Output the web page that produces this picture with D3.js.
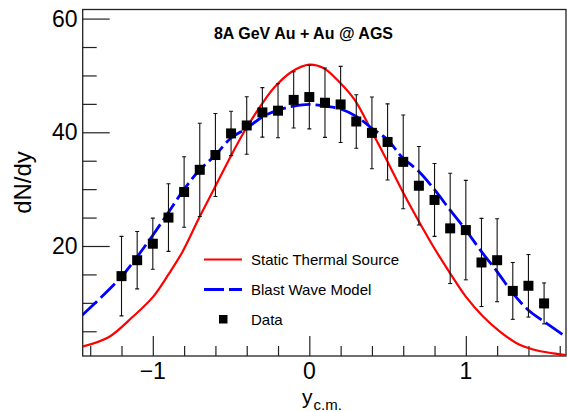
<!DOCTYPE html>
<html>
<head>
<meta charset="utf-8">
<script src="https://cdn.jsdelivr.net/npm/d3@7"></script>
<style>
  html, body { margin: 0; padding: 0; background: #fff; }
  svg { display: block; font-family: "Liberation Sans", Arial, Helvetica, sans-serif; }
</style>
</head>
<body>
<svg id="chart" width="567" height="412"></svg>
<script>
// ---- Data ----
const dataY = [-1.2,-1.1,-1.0,-0.9,-0.8,-0.7,-0.6,-0.5,-0.4,-0.3,-0.2,-0.1,0.0,0.1,0.2,0.3,0.4,0.5,0.6,0.7,0.8,0.9,1.0,1.1,1.2,1.3,1.4,1.5];
const dataDNdy = [14.7,17.5,20.4,25.0,29.5,33.4,36.0,39.8,41.2,43.5,43.8,45.7,46.2,45.2,44.9,41.9,39.9,38.3,34.8,30.6,28.1,23.1,22.8,17.1,17.5,12.1,13.0,9.9];
const dataErr = [7.0,5.05,4.5,5.95,6.2,8.2,7.3,3.9,5.05,4.35,4.75,4.95,5.6,6.1,6.7,4.7,6.3,6.7,8.25,6.9,6.4,9.7,8.75,7.75,7.3,5.0,5.5,3.6];

const staticY = [-1.45,-1.28,-1.13,-1.0,-0.9,-0.81,-0.71,-0.6,-0.515,-0.41,-0.3,-0.22,-0.11,0.0,0.09,0.19,0.29,0.4,0.495,0.59,0.686,0.79,0.9,1.0,1.11,1.22,1.325,1.43,1.56,1.64];
const staticDN = [2.3,4.0,7.5,11.0,15.0,19.0,24.6,30.5,35.1,40.4,45.1,48.0,50.7,51.9,51.3,48.9,45.7,40.1,35.1,29.9,25.0,20.0,15.2,11.1,7.6,4.9,2.9,1.8,1.1,0.8];

const blastY = [-1.45,-1.325,-1.2,-1.1,-1.0,-0.91,-0.81,-0.71,-0.6,-0.5,-0.4,-0.3,-0.2,-0.1,0.0,0.1,0.2,0.3,0.4,0.5,0.59,0.7,0.8,0.9,1.0,1.1,1.2,1.3,1.4,1.5,1.64];
const blastDN = [7.85,11.1,14.6,18.1,21.9,25.5,29.6,33.1,36.0,39.0,40.7,42.7,43.9,44.6,44.9,44.6,44.1,42.8,40.7,38.7,35.7,33.1,29.9,26.3,22.8,19.0,15.5,11.7,8.7,6.7,4.0];

const xMajorTicks = [-1, 0, 1];
const xTickLabels = ["\u22121", "0", "1"];
const xMinorTicks = [-1.4,-1.2,-0.8,-0.6,-0.4,-0.2,0.2,0.4,0.6,0.8,1.2,1.4,1.6];
const yMajorTicks = [20, 40, 60];
const yTickLabels = ["20", "40", "60"];
const yMinorTicks = [5,10,15,25,30,35,45,50,55];

const titleText = "8A GeV Au + Au @ AGS";
const legendLabels = ["Static Thermal Source", "Blast Wave Model", "Data"];

// ---- Layout ----
const svg = d3.select("#chart");
const L = 82.7, R = 566, T = 9.5, B = 356;
const x = d3.scaleLinear().domain([-1.448, 1.64]).range([L, R]);
const y = d3.scaleLinear().domain([0.65, 61.6]).range([B, T]);

svg.append("defs").append("clipPath").attr("id", "clip")
  .append("rect").attr("x", L).attr("y", T).attr("width", R - L).attr("height", B - T);

const axisColor = "#222";

// Ticks via d3 axes (inside)
const gx = svg.append("g").attr("transform", `translate(0,${B})`)
  .call(d3.axisTop(x).tickValues(xMajorTicks).tickSize(20).tickFormat(""));
const gxm = svg.append("g").attr("transform", `translate(0,${B})`)
  .call(d3.axisTop(x).tickValues(xMinorTicks).tickSize(10).tickFormat(""));
const gy = svg.append("g").attr("transform", `translate(${L},0)`)
  .call(d3.axisRight(y).tickValues(yMajorTicks).tickSize(27).tickFormat(""));
const gym = svg.append("g").attr("transform", `translate(${L},0)`)
  .call(d3.axisRight(y).tickValues(yMinorTicks).tickSize(14).tickFormat(""));
[gx, gxm, gy, gym].forEach(g => {
  g.select(".domain").remove();
  g.selectAll("line").attr("stroke", axisColor).attr("stroke-width", 1.2);
});

// Frame
svg.append("rect").attr("x", L).attr("y", T).attr("width", R - L).attr("height", B - T)
  .attr("fill", "none").attr("stroke", axisColor).attr("stroke-width", 1.3);

// Tick labels
svg.append("g").selectAll("text").data(xMajorTicks).join("text")
  .attr("x", d => x(d)).attr("y", 379)
  .attr("text-anchor", "middle").attr("font-size", 23).attr("fill", "#000")
  .text((d, i) => xTickLabels[i]);
svg.append("g").selectAll("text").data(yMajorTicks).join("text")
  .attr("x", 77.5).attr("y", d => y(d) + 8.2)
  .attr("text-anchor", "end").attr("font-size", 23).attr("fill", "#000")
  .text((d, i) => yTickLabels[i]);

// Axis titles
svg.append("text").attr("transform", "translate(31,182.5) rotate(-90)")
  .attr("text-anchor", "middle").attr("font-size", 24).attr("fill", "#000").text("dN/dy");
const xt = svg.append("text").attr("x", 302).attr("y", 404).attr("font-size", 21).attr("fill", "#000");
xt.append("tspan").text("y");
xt.append("tspan").attr("font-size", 15).attr("dy", 6).attr("dx", 1).text("c.m.");

// Title
svg.append("text").attr("x", 303.5).attr("y", 39).attr("text-anchor", "middle")
  .attr("font-size", 16).attr("font-weight", "bold").attr("fill", "#000").text(titleText);

const plot = svg.append("g").attr("clip-path", "url(#clip)");

// Curves
const line = d3.line().x(d => x(d[0])).y(d => y(d[1])).curve(d3.curveCatmullRom.alpha(0.5));
plot.append("path").datum(staticY.map((v, i) => [v, staticDN[i]]))
  .attr("d", line).attr("fill", "none").attr("stroke", "#ff0000").attr("stroke-width", 2.2);
plot.append("path").datum(blastY.map((v, i) => [v, blastDN[i]]))
  .attr("d", line).attr("fill", "none").attr("stroke", "#0000ff").attr("stroke-width", 2.8)
  .attr("stroke-dasharray", "20,5");

// Error bars
const pts = dataY.map((v, i) => ({ yc: v, v: dataDNdy[i], e: dataErr[i] }));
const eb = plot.append("g").attr("stroke", "#111").attr("stroke-width", 1.1);
eb.selectAll("line.v").data(pts).join("line").attr("class", "v")
  .attr("x1", d => x(d.yc)).attr("x2", d => x(d.yc))
  .attr("y1", d => y(d.v - d.e)).attr("y2", d => y(d.v + d.e));
eb.selectAll("line.t").data(pts).join("line").attr("class", "t")
  .attr("x1", d => x(d.yc) - 2).attr("x2", d => x(d.yc) + 2)
  .attr("y1", d => y(d.v + d.e)).attr("y2", d => y(d.v + d.e));
eb.selectAll("line.b").data(pts).join("line").attr("class", "b")
  .attr("x1", d => x(d.yc) - 2).attr("x2", d => x(d.yc) + 2)
  .attr("y1", d => y(d.v - d.e)).attr("y2", d => y(d.v - d.e));

// Markers
const ms = 10;
plot.append("g").selectAll("rect").data(pts).join("rect")
  .attr("x", d => x(d.yc) - ms / 2).attr("y", d => y(d.v) - ms / 2)
  .attr("width", ms).attr("height", ms).attr("fill", "#000");

// Legend
const lg = svg.append("g");
lg.append("line").attr("x1", 204).attr("x2", 242).attr("y1", 259.5).attr("y2", 259.5)
  .attr("stroke", "#ff0000").attr("stroke-width", 2.2);
lg.append("line").attr("x1", 204).attr("x2", 242).attr("y1", 289.5).attr("y2", 289.5)
  .attr("stroke", "#0000ff").attr("stroke-width", 2.8).attr("stroke-dasharray", "20,5");
lg.append("rect").attr("x", 219).attr("y", 315).attr("width", 8.5).attr("height", 8.5).attr("fill", "#000");
lg.selectAll("text").data(legendLabels).join("text")
  .attr("x", 251).attr("y", (d, i) => 265 + i * 30)
  .attr("font-size", 15).attr("fill", "#000").text(d => d);
</script>
</body>
</html>
